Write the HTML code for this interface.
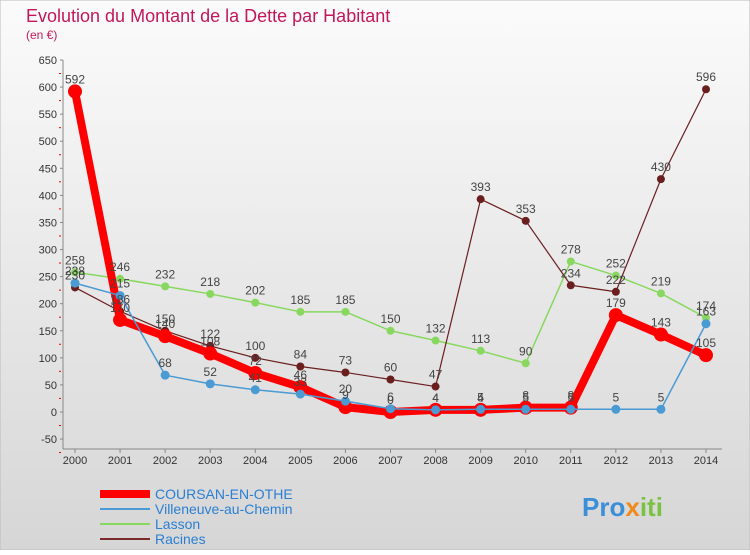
<!DOCTYPE html>
<html><head><meta charset="utf-8"><style>
body{margin:0;width:750px;height:550px;overflow:hidden;font-family:"Liberation Sans",sans-serif}
svg text{font-family:"Liberation Sans",sans-serif}
</style></head><body>
<svg id="c" width="750" height="550">
<defs><linearGradient id="bg" x1="0" y1="0" x2="0" y2="1"><stop offset="0" stop-color="#fbfbfb"/><stop offset="1" stop-color="#d6d6d6"/></linearGradient></defs>
<rect width="750" height="550" fill="url(#bg)" stroke="#bbb"/>
<text x="26" y="22" font-size="18" fill="#c2185b">Evolution du Montant de la Dette par Habitant</text>
<text x="26" y="39" font-size="12" fill="#c2185b">(en €)</text>
<g id="axes"></g><g id="series"></g><g id="labels"></g>
<g>
<line x1="100" y1="494" x2="150" y2="494" stroke="#ff0000" stroke-width="8"/>
<text x="155" y="499" font-size="14" fill="#2a7fd4">COURSAN-EN-OTHE</text>
<line x1="100" y1="509" x2="150" y2="509" stroke="#4a9ad4" stroke-width="2"/>
<text x="155" y="514" font-size="14" fill="#2a7fd4">Villeneuve-au-Chemin</text>
<line x1="100" y1="524" x2="150" y2="524" stroke="#88d860" stroke-width="2"/>
<text x="155" y="529" font-size="14" fill="#2a7fd4">Lasson</text>
<line x1="100" y1="539" x2="150" y2="539" stroke="#7a2a2a" stroke-width="2"/>
<text x="155" y="544" font-size="14" fill="#2a7fd4">Racines</text>
</g>
<text x="582" y="516" font-size="26" font-weight="bold" fill="#3a8fd8">Pro<tspan fill="#f08a1c">x</tspan><tspan fill="#7cc242">iti</tspan></text>
</svg>
<script>
const years=[2000,2001,2002,2003,2004,2005,2006,2007,2008,2009,2010,2011,2012,2013,2014];
const coursan=[592,170,140,108,72,46,9,0,4,4,8,8,179,143,105];
const villeneuve=[238,215,68,52,41,33,20,6,4,5,5,5,5,5,163];
const lasson=[258,246,232,218,202,185,185,150,132,113,90,278,252,219,174];
const racines=[230,186,150,122,100,84,73,60,47,393,353,234,222,430,596];
const yTicks=[-50,0,50,100,150,200,250,300,350,400,450,500,550,600,650];
const NS="http://www.w3.org/2000/svg";
const x=i=>75+i*(706-75)/(years.length-1);
const y=v=>412-v*(412-60)/650;
function mk(t,a,p){const e=document.createElementNS(NS,t);for(const k in a)e.setAttribute(k,a[k]);p.appendChild(e);return e;}
const ax=document.getElementById('axes');
const yl=mk('line',{x1:63,y1:y(650),x2:63,y2:y(-50)+10,stroke:'#888'},ax);


yTicks.forEach(v=>{
 const t=mk('text',{x:57,y:y(v)+4,'font-size':11,fill:'#333','text-anchor':'end'},ax);t.textContent=v;
 
 
 mk('line',{x1:60,y1:y(v),x2:63,y2:y(v),stroke:'#888'},ax);
 mk('line',{x1:59,y1:y(v)+13.5,x2:61,y2:y(v)+13.5,stroke:'#e00'},ax);
});
const xl=mk('line',{x1:63,y1:449,x2:722,y2:449,stroke:'#888'},ax);


years.forEach((yr,i)=>{
 const t=mk('text',{x:x(i),y:464,'font-size':11,fill:'#333','text-anchor':'middle'},ax);t.textContent=yr;
 
 
 mk('line',{x1:x(i),y1:449,x2:x(i),y2:453,stroke:'#888'},ax);
});
const sg=document.getElementById('series'),lg=document.getElementById('labels');
function draw(data,name,color,w,r){
 const pl=mk('polyline',{points:data.map((v,i)=>x(i)+','+y(v)).join(' '),fill:'none',stroke:color,'stroke-width':w,'stroke-linejoin':'round'},sg);
 
 
 data.forEach((v,i)=>{
  const c=mk('circle',{cx:x(i),cy:y(v),r:r,fill:color},sg);
  
  
  const t=mk('text',{x:x(i),y:y(v)-8,'font-size':12,fill:'#444','text-anchor':'middle'},lg);t.textContent=v;
  
  
 });
}
draw(lasson,'lasson','#88d860',1.5,4);
draw(racines,'racines','#6b1e1e',1.2,4);
draw(coursan,'coursan','#ff0000',8,7);
draw(villeneuve,'villeneuve','#4a9ad4',1.5,4.5);
</script>
</body></html>
